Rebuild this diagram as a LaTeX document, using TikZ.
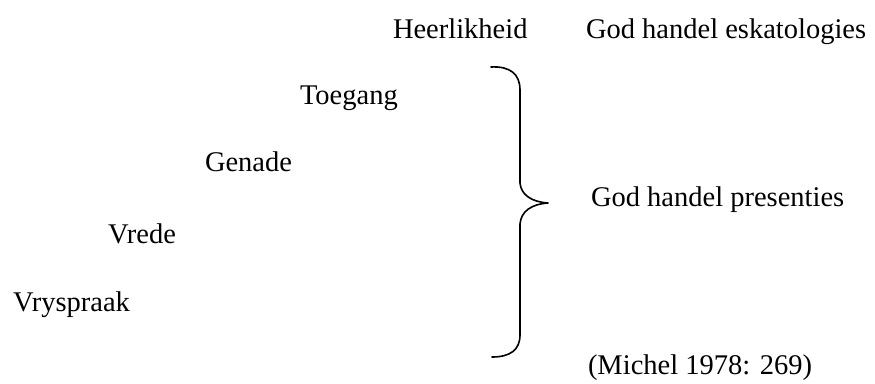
\documentclass[tikz,border=0pt]{standalone}
\usepackage{fontspec}
\setmainfont{Liberation Serif}
\begin{document}
\begin{tikzpicture}[x=1pt,y=-1pt,
  lbl/.style={anchor=base west,inner sep=0pt,outer sep=0pt,font=\fontsize{28.5}{30}\selectfont},
  bracestyle/.style={line width=1.6pt,line cap=round,line join=round}]
\useasboundingbox[fill=white] (0,0) rectangle (875,383);
\node[lbl] (heer) at (393,38) {Heerlikheid};
\node[lbl] (esk) at (586,38) {God handel eskatologies};
\node[lbl] (toe) at (300,104) {Toegang};
\node[lbl] (gen) at (205,171) {Genade};
\node[lbl] (vre) at (108,243) {Vrede};
\node[lbl] (vry) at (13,311) {Vryspraak};
\node[lbl] (pres) at (591,206) {God handel presenties};
\node[lbl] (mich) at (588,374) {(Michel 1978: 269)};
\draw[bracestyle] (491,67) .. controls (510,66) and (520,74) .. (520,90)
  -- (520,183) .. controls (521,195) and (532,202) .. (548,203)
  .. controls (532,204) and (521,211) .. (520,224)
  -- (520,335) .. controls (520,350) and (510,357) .. (492,357);
\end{tikzpicture}
\end{document}
